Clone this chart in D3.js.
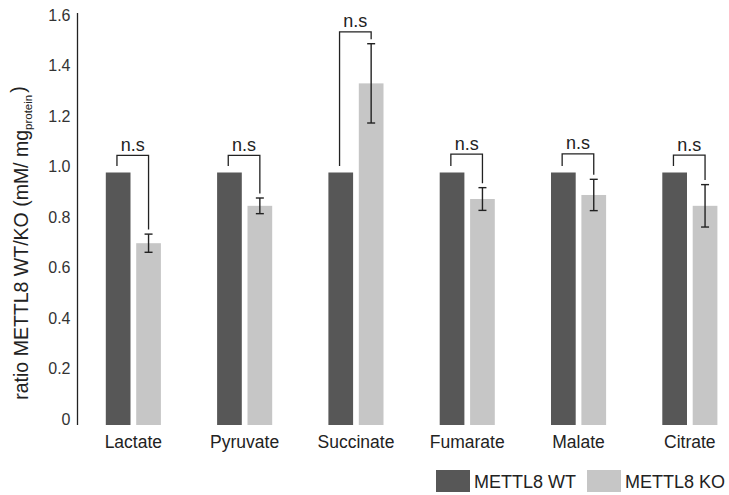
<!DOCTYPE html>
<html>
<head>
<meta charset="utf-8">
<script src="https://cdn.jsdelivr.net/npm/d3@7"></script>
<style>
  html, body { margin: 0; padding: 0; background: #fff; }
  svg { display: block; font-family: "Liberation Sans", Arial, sans-serif; }
</style>
</head>
<body>
<svg id="chart" width="729" height="495"></svg>
<script>
// Metabolite ratios, WT set to 1.0 and KO relative to it
const categories = ["Lactate", "Pyruvate", "Succinate", "Fumarate", "Malate", "Citrate"];
const wtValues = [1.0, 1.0, 1.0, 1.0, 1.0, 1.0];
const koValues = [0.72, 0.868, 1.353, 0.895, 0.911, 0.868];
const koErrors = [0.036, 0.031, 0.157, 0.045, 0.062, 0.084];
const bracketLevels = [1.068, 1.068, 1.557, 1.073, 1.074, 1.069];
const sigLabels = ["n.s", "n.s", "n.s", "n.s", "n.s", "n.s"];
const yTicks = [0, 0.2, 0.4, 0.6, 0.8, 1.0, 1.2, 1.4, 1.6];
const seriesNames = ["METTL8 WT", "METTL8 KO"];
const seriesColors = ["#575757", "#c6c6c6"];

const svg = d3.select("#chart");
const ink = "#222";

const x = d3.scaleBand().domain(categories).range([77.7, 745.5]).padding(0);
const y = d3.scaleLinear().domain([0, 1.6]).range([425, 21]);

const barW = 24.7, gap = 5.7;
const wtX = c => x(c) + x.bandwidth() / 2 - gap / 2 - barW;
const koX = c => x(c) + x.bandwidth() / 2 + gap / 2;

// Y axis
const yAxis = d3.axisLeft(y).tickValues(yTicks).tickSize(0).tickPadding(7)
  .tickFormat(d => d === 0 ? "0" : d3.format(".1f")(d));
const gy = svg.append("g").attr("transform", "translate(77.5,0)").call(yAxis);
gy.select(".domain").remove();
gy.selectAll("text").attr("font-size", 16).attr("fill", "#333").attr("dy", "-0.05em")
  .attr("font-family", "'Liberation Sans', Arial, sans-serif");
svg.append("line").attr("x1", 77.5).attr("x2", 77.5).attr("y1", 13).attr("y2", 425)
  .attr("stroke", ink).attr("stroke-width", 1.3);

// Y axis title with subscript
const title = svg.append("text")
  .attr("transform", "translate(28," + 243 + ") rotate(-90)")
  .attr("text-anchor", "middle").attr("font-size", 19.5).attr("fill", "#222");
title.append("tspan").text("ratio METTL8 WT/KO (mM/ mg");
title.append("tspan").attr("font-size", 11.5).attr("dy", "0.35em").text("protein");
title.append("tspan").attr("dy", "-0.35em").attr("dx", 2).text(")");

// Bars
svg.append("g").selectAll("rect").data(categories).join("rect")
  .attr("x", c => wtX(c)).attr("width", barW)
  .attr("y", (c, i) => y(wtValues[i])).attr("height", (c, i) => y(0) - y(wtValues[i]))
  .attr("fill", seriesColors[0]);
svg.append("g").selectAll("rect").data(categories).join("rect")
  .attr("x", c => koX(c)).attr("width", barW)
  .attr("y", (c, i) => y(koValues[i])).attr("height", (c, i) => y(0) - y(koValues[i]))
  .attr("fill", seriesColors[1]);

// Error bars on KO
const eb = svg.append("g").attr("stroke", ink).attr("stroke-width", 1.4).attr("fill", "none");
categories.forEach((c, i) => {
  const cx = koX(c) + barW / 2;
  const top = y(koValues[i] + koErrors[i]), bot = y(koValues[i] - koErrors[i]);
  eb.append("line").attr("x1", cx).attr("x2", cx).attr("y1", top).attr("y2", bot);
  eb.append("line").attr("x1", cx - 4).attr("x2", cx + 4).attr("y1", top).attr("y2", top);
  eb.append("line").attr("x1", cx - 4).attr("x2", cx + 4).attr("y1", bot).attr("y2", bot);
});

// Significance brackets
const br = svg.append("g");
categories.forEach((c, i) => {
  const lx = wtX(c) + barW / 2 - 1.2;
  const rx = koX(c) + barW / 2;
  const by = y(bracketLevels[i]);
  const lEnd = y(wtValues[i]) - 6.5;
  const rEnd = y(koValues[i] + koErrors[i]) - 4.5;
  br.append("path")
    .attr("d", `M${lx},${lEnd}V${by}H${rx}V${rEnd}`)
    .attr("fill", "none").attr("stroke", ink).attr("stroke-width", 1.3);
  br.append("text").attr("x", (lx + rx) / 2).attr("y", by - 4.5)
    .attr("text-anchor", "middle").attr("font-size", 18).attr("fill", "#222")
    .text(sigLabels[i]);
});

// Category labels
svg.append("g").selectAll("text").data(categories).join("text")
  .attr("x", c => x(c) + x.bandwidth() / 2).attr("y", 447.5)
  .attr("text-anchor", "middle").attr("font-size", 17.5).attr("fill", "#222")
  .text(c => c);

// Legend
const legendX = [436, 587];
const lg = svg.append("g");
seriesNames.forEach((name, i) => {
  lg.append("rect").attr("x", legendX[i]).attr("y", 470).attr("width", 34).attr("height", 22)
    .attr("fill", seriesColors[i]);
  lg.append("text").attr("x", legendX[i] + 38).attr("y", 488)
    .attr("font-size", 18).attr("fill", "#222").text(name);
});
</script>
</body>
</html>
